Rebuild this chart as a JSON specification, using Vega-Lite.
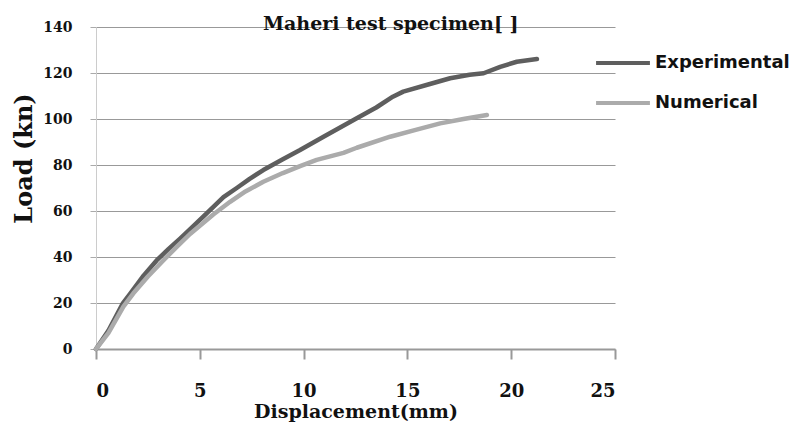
{
  "$schema": "https://vega.github.io/schema/vega-lite/v6.json",
  "width": 519,
  "height": 322,
  "autosize": "none",
  "padding": {"left": 96, "top": 27, "right": 182, "bottom": 79},
  "background": "white",
  "title": {
    "text": "Maheri test specimen[ ]",
    "anchor": "start",
    "frame": "group",
    "dx": 167,
    "dy": 26,
    "offset": -3,
    "baseline": "alphabetic",
    "font": "DejaVu Serif",
    "fontWeight": "bold",
    "fontSize": 19,
    "color": "#111"
  },
  "data": {
    "values": [
      {"series": "Experimental", "d": 0, "load": 0},
      {"series": "Experimental", "d": 0.6, "load": 8},
      {"series": "Experimental", "d": 1.3, "load": 20},
      {"series": "Experimental", "d": 1.64, "load": 24},
      {"series": "Experimental", "d": 2.3, "load": 32},
      {"series": "Experimental", "d": 2.92, "load": 38.5},
      {"series": "Experimental", "d": 3.5, "load": 43.5},
      {"series": "Experimental", "d": 4.05, "load": 48},
      {"series": "Experimental", "d": 4.7, "load": 53.5},
      {"series": "Experimental", "d": 5.33, "load": 59},
      {"series": "Experimental", "d": 6.14, "load": 66},
      {"series": "Experimental", "d": 6.78, "load": 70},
      {"series": "Experimental", "d": 7.4, "load": 74},
      {"series": "Experimental", "d": 8.06, "load": 77.8},
      {"series": "Experimental", "d": 9.0, "load": 82.5},
      {"series": "Experimental", "d": 9.83, "load": 86.5},
      {"series": "Experimental", "d": 10.96, "load": 92.3},
      {"series": "Experimental", "d": 12.56, "load": 100.3},
      {"series": "Experimental", "d": 13.5, "load": 105},
      {"series": "Experimental", "d": 14.3, "load": 109.7},
      {"series": "Experimental", "d": 14.8, "load": 111.9},
      {"series": "Experimental", "d": 16.0, "load": 115},
      {"series": "Experimental", "d": 17.06, "load": 117.7},
      {"series": "Experimental", "d": 18.0, "load": 119.2},
      {"series": "Experimental", "d": 18.67, "load": 119.9},
      {"series": "Experimental", "d": 19.47, "load": 122.7},
      {"series": "Experimental", "d": 20.27, "load": 124.9},
      {"series": "Experimental", "d": 21.24, "load": 126.1},
      {"series": "Numerical", "d": 0, "load": 0},
      {"series": "Numerical", "d": 0.6, "load": 7},
      {"series": "Numerical", "d": 1.32, "load": 18.4},
      {"series": "Numerical", "d": 1.8, "load": 24.2},
      {"series": "Numerical", "d": 2.5, "load": 31.5},
      {"series": "Numerical", "d": 3.24, "load": 38.5},
      {"series": "Numerical", "d": 3.9, "load": 44.5},
      {"series": "Numerical", "d": 4.53, "load": 50},
      {"series": "Numerical", "d": 5.65, "load": 58.5},
      {"series": "Numerical", "d": 6.46, "load": 64},
      {"series": "Numerical", "d": 7.2, "load": 68.5},
      {"series": "Numerical", "d": 8.06, "load": 72.7},
      {"series": "Numerical", "d": 9.0, "load": 76.5},
      {"series": "Numerical", "d": 9.83, "load": 79.5},
      {"series": "Numerical", "d": 10.63, "load": 82.2},
      {"series": "Numerical", "d": 11.92, "load": 85.3},
      {"series": "Numerical", "d": 12.56, "load": 87.5},
      {"series": "Numerical", "d": 14.17, "load": 92.3},
      {"series": "Numerical", "d": 15.4, "load": 95.3},
      {"series": "Numerical", "d": 16.58, "load": 98.1},
      {"series": "Numerical", "d": 17.7, "load": 100},
      {"series": "Numerical", "d": 18.83, "load": 101.7}
    ]
  },
  "mark": {"type": "line", "strokeWidth": 4.5, "strokeCap": "round", "strokeJoin": "round"},
  "encoding": {
    "x": {
      "field": "d",
      "type": "quantitative",
      "scale": {"domain": [0, 25], "nice": false},
      "axis": {
        "title": "Displacement(mm)",
        "values": [0, 5, 10, 15, 20, 25],
        "grid": false,
        "domainColor": "#999",
        "domainWidth": 2,
        "tickColor": "#999",
        "tickWidth": 2,
        "tickSize": 10,
        "labelPadding": 23,
        "labelFont": "DejaVu Serif",
        "labelFontWeight": "bold",
        "labelFontSize": 18,
        "labelColor": "#111",
        "titleFont": "DejaVu Serif",
        "titleFontWeight": "bold",
        "titleFontSize": 19,
        "titleColor": "#111",
        "titlePadding": 2
      }
    },
    "y": {
      "field": "load",
      "type": "quantitative",
      "scale": {"domain": [0, 140], "nice": false},
      "axis": {
        "title": "Load (kn)",
        "values": [0, 20, 40, 60, 80, 100, 120, 140],
        "grid": true,
        "gridColor": "#999",
        "gridWidth": 1,
        "domainColor": "#ccc",
        "domainWidth": 1,
        "tickColor": "#aaa",
        "tickSize": 6,
        "labelPadding": 18,
        "labelFont": "DejaVu Serif",
        "labelFontWeight": "bold",
        "labelFontSize": 14,
        "labelColor": "#111",
        "titleFont": "DejaVu Serif",
        "titleFontWeight": "bold",
        "titleFontSize": 24,
        "titleColor": "#111",
        "titleAngle": 270,
        "titleAlign": "center",
        "titleBaseline": "middle",
        "titleX": -72,
        "titleY": 131
      }
    },
    "color": {
      "field": "series",
      "type": "nominal",
      "scale": {"domain": ["Experimental", "Numerical"], "range": ["#5e5e5e", "#ababab"]},
      "legend": {
        "title": null,
        "orient": "none",
        "legendX": 498,
        "legendY": 7,
        "symbolType": "stroke",
        "symbolStrokeWidth": 4,
        "symbolSize": 2900,
        "labelFont": "DejaVu Sans",
        "labelFontWeight": "bold",
        "labelFontSize": 18,
        "labelColor": "#111",
        "labelOffset": 3,
        "rowPadding": 2
      }
    }
  },
  "config": {"view": {"stroke": null}}
}
